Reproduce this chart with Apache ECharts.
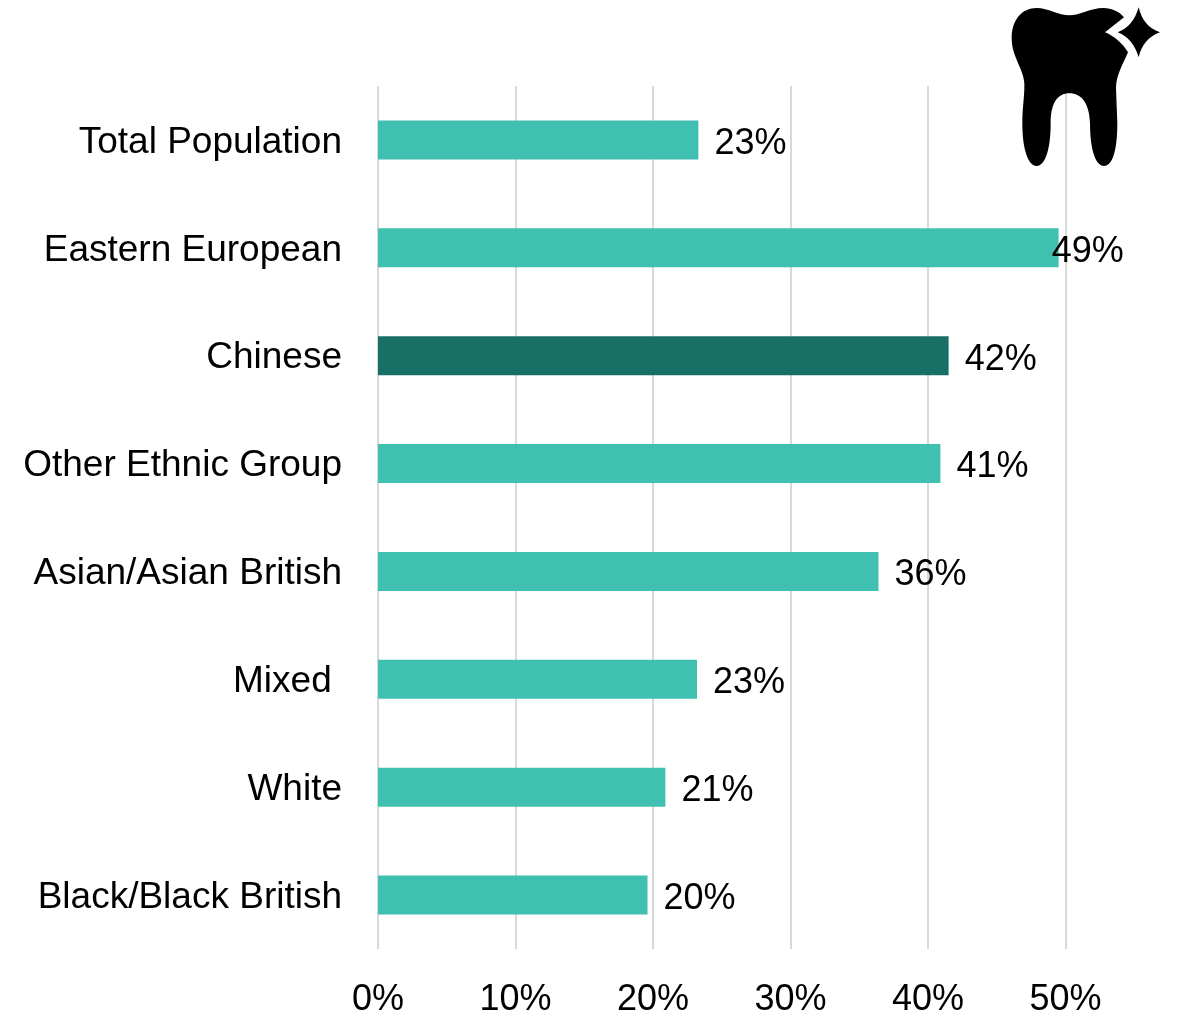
<!DOCTYPE html>
<html>
<head>
<meta charset="utf-8">
<style>html,body{margin:0;padding:0;background:#fff}#c{width:1181px;height:1016px}</style>
<script src="https://cdn.jsdelivr.net/npm/echarts@6/dist/echarts.min.js"></script>
</head>
<body>
<div id="c"></div>
<script>
const categories = ['Total Population','Eastern European','Chinese','Other Ethnic Group','Asian/Asian British','Mixed ','White','Black/Black British'];
const values = [23.3,49.5,41.5,40.9,36.4,23.2,20.9,19.6];
const valueLabels = ['23%','49%','42%','41%','36%','23%','21%','20%'];
const highlighted = 'Chinese';
const overlapping = 'Eastern European';

const FONT = '"Liberation Sans", Arial, sans-serif';
echarts.graphic.registerShape('toothIcon', echarts.graphic.extendPath(
  'M170 24C205 24 235 46 268 46C300 46 330 24 370 24C395 24 420 36 432 52L375 97C402 108 428 130 444 157C430 190 408 225 408 265L412 370C412 450 398 498 372 498C347 498 330 450 330 370C328 310 305 280 268 280C232 280 212 310 212 370C212 450 195 498 170 498C145 498 127 450 127 370C127 320 134 290 133 250C130 205 95 170 95 115C95 60 125 24 170 24ZM476 22C485 60 505 85 540 97C505 110 485 135 476 172C465 135 445 110 413 97C445 85 465 60 476 22Z', {}));
const chart = echarts.init(document.getElementById('c'), null, {renderer:'canvas'});
chart.setOption({
  animation:false,
  backgroundColor:'#fff',
  grid:{left:378,top:86,width:687.5,height:863,containLabel:false,outerBoundsMode:'none'},
  xAxis:{
    type:'value',min:0,max:50,interval:10,
    axisLine:{show:false},axisTick:{show:false},
    splitLine:{show:true,lineStyle:{color:'#d9d9d9',width:2}},
    axisLabel:{formatter:'{value}%',color:'#000',fontFamily:FONT,fontSize:36,margin:33}
  },
  yAxis:{
    type:'category',inverse:true,data:categories,
    axisLine:{show:false},axisTick:{show:false},splitLine:{show:false},
    axisLabel:{color:'#000',fontFamily:FONT,fontSize:37,margin:36,verticalAlign:'top',lineHeight:5}
  },
  series:[{
    type:'bar',barWidth:39,
    data:values.map((v,i)=>({
      value:v,
      itemStyle:{color:categories[i]===highlighted?'#186f65':'#40c0b0'},
      label:{offset:[categories[i]===overlapping?-23:0,4]}
    })),
    label:{
      show:true,position:'right',distance:16,color:'#000',fontFamily:FONT,fontSize:36,
      formatter:p=>valueLabels[p.dataIndex]
    }
  }],
  graphic:[
    {type:'toothIcon',x:980,y:0,scaleX:1/3,scaleY:1/3,z:10,style:{fill:'#000'}}
  ]
});
</script>
</body>
</html>
